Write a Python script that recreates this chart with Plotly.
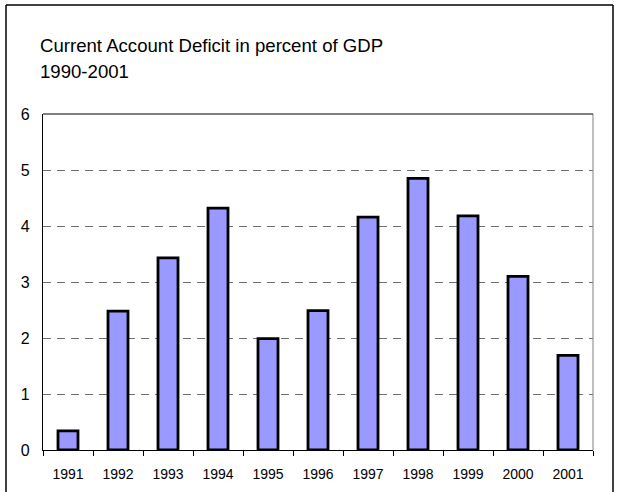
import plotly.graph_objects as go

years = ["1991", "1992", "1993", "1994", "1995", "1996", "1997", "1998", "1999", "2000", "2001"]
deficit = [0.34, 2.48, 3.43, 4.32, 1.99, 2.49, 4.16, 4.85, 4.18, 3.1, 1.69]
y_ticks = [0, 1, 2, 3, 4, 5, 6]

title_lines = ["Current Account Deficit in percent of GDP", "1990-2001"]

FONT = "Liberation Sans, Arial, sans-serif"

fig = go.Figure()
fig.add_trace(go.Bar(
    x=years, y=deficit,
    marker=dict(color="#9999FF", line=dict(color="black", width=2.8)),
    width=0.40,
))

L, R, T, B = 43, 29, 114, 42
W, H = 622, 492
pw, ph = W - L - R, H - T - B

def px_x(x):
    return (x - L) / pw

def px_y(y):
    return (H - B - y) / ph

shapes = [
    dict(type="line", xref="paper", yref="paper", x0=px_x(6), x1=px_x(6), y0=px_y(5), y1=px_y(500),
         line=dict(color="black", width=1.5)),
    dict(type="line", xref="paper", yref="paper", x0=px_x(6), x1=px_x(613), y0=px_y(5), y1=px_y(5),
         line=dict(color="black", width=1.5)),
    dict(type="line", xref="paper", yref="paper", x0=px_x(613), x1=px_x(613), y0=px_y(5), y1=px_y(500),
         line=dict(color="black", width=1.5)),
    dict(type="line", xref="paper", yref="paper", x0=1, x1=1, y0=0, y1=1,
         line=dict(color="#808080", width=1)),
    dict(type="line", xref="paper", yref="paper", x0=0, x1=1, y0=1, y1=1,
         line=dict(color="black", width=1.2)),
]

annotations = [
    dict(text=title_lines[0], xref="paper", yref="paper", x=px_x(38), y=px_y(45),
         xanchor="left", yanchor="middle", showarrow=False,
         font=dict(family=FONT, size=18.6, color="black")),
    dict(text=title_lines[1], xref="paper", yref="paper", x=px_x(38), y=px_y(71),
         xanchor="left", yanchor="middle", showarrow=False,
         font=dict(family=FONT, size=18.6, color="black")),
]

fig.update_layout(
    width=W, height=H,
    margin=dict(l=L, r=R, t=T, b=B, pad=0),
    paper_bgcolor="white", plot_bgcolor="white",
    showlegend=False,
    bargap=0.58,
    shapes=shapes,
    annotations=annotations,
    font=dict(family=FONT, color="black"),
    xaxis=dict(
        type="category", showline=True, linecolor="black", linewidth=1.2,
        ticks="outside", tickson="boundaries", ticklen=5, tickcolor="black", tickwidth=1,
        tickfont=dict(size=14, family=FONT), showgrid=False, ticklabelstandoff=11,
        automargin=False,
    ),
    yaxis=dict(
        range=[0, 6], tickvals=y_ticks, showline=True, linecolor="black", linewidth=1.2,
        showgrid=True, gridcolor="#707070", gridwidth=1, griddash="8px,6px",
        tickfont=dict(size=16, family=FONT), ticks="", ticklabelstandoff=9,
        zeroline=False, automargin=False,
    ),
)

fig.write_html("out.html", config={"displayModeBar": False},
               post_script="document.body.style.margin='0';")
